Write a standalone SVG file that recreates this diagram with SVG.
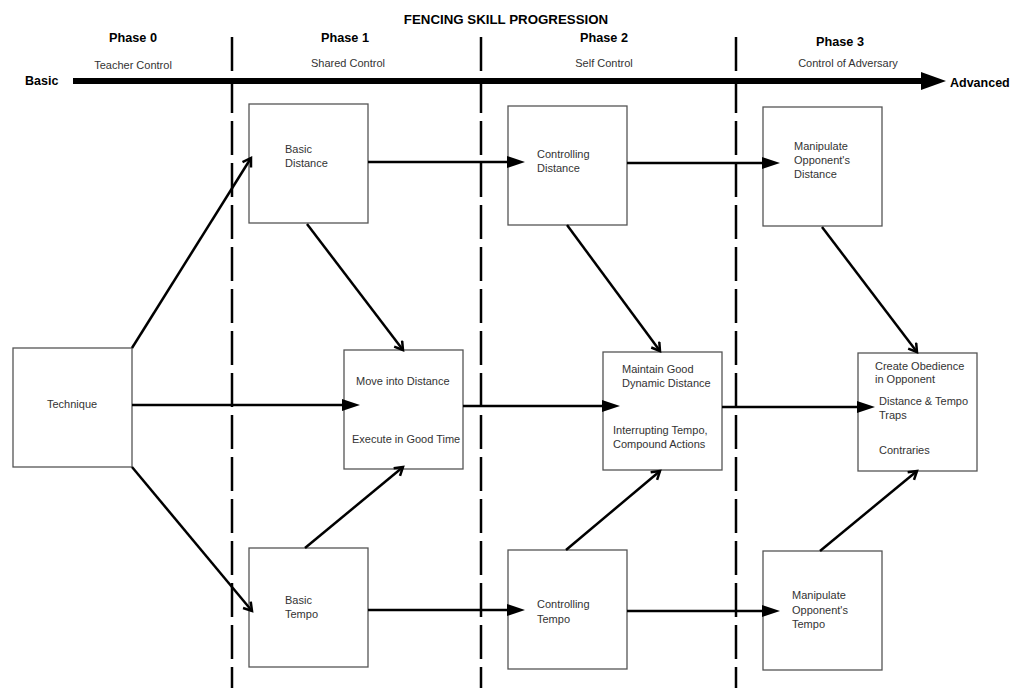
<svg xmlns="http://www.w3.org/2000/svg" width="1024" height="700" viewBox="0 0 1024 700">
<style>
.t{font-family:"Liberation Sans",Arial,sans-serif;font-size:11px;fill:#333}
.h{font-family:"Liberation Sans",Arial,sans-serif;font-weight:bold;fill:#000}
.box{fill:#fff;stroke:#555;stroke-width:1.3}
.c{stroke:#000;stroke-width:2.5;fill:none}
.d{stroke:#000;stroke-width:2.5;stroke-dasharray:34 8}
</style>
<defs>
<marker id="tri" markerUnits="userSpaceOnUse" markerWidth="20" markerHeight="14" refX="0" refY="6" orient="auto"><path d="M0,0 L18,6 L0,12 z" fill="#000"/></marker>
<marker id="vee" markerUnits="userSpaceOnUse" markerWidth="14" markerHeight="14" refX="9" refY="6" orient="auto"><path d="M1,1 L9,6 L1,11" fill="none" stroke="#000" stroke-width="2.5"/></marker>
<marker id="big" markerUnits="userSpaceOnUse" markerWidth="28" markerHeight="20" refX="0" refY="9" orient="auto"><path d="M0,0 L25,9 L0,18 z" fill="#000"/></marker>
</defs>
<rect width="1024" height="700" fill="#fff"/>
<g id="header">
<text class="h" x="506" y="24" font-size="13.3" text-anchor="middle">FENCING SKILL PROGRESSION</text>
<text class="h" x="133" y="42" font-size="12.7" text-anchor="middle">Phase 0</text>
<text class="h" x="345" y="42" font-size="12.7" text-anchor="middle">Phase 1</text>
<text class="h" x="604" y="42" font-size="12.7" text-anchor="middle">Phase 2</text>
<text class="h" x="840" y="46" font-size="12.7" text-anchor="middle">Phase 3</text>
<text class="t" x="133" y="69" text-anchor="middle">Teacher Control</text>
<text class="t" x="348" y="67" text-anchor="middle">Shared Control</text>
<text class="t" x="604" y="67" text-anchor="middle">Self Control</text>
<text class="t" x="848" y="67" text-anchor="middle">Control of Adversary</text>
<text class="h" x="25" y="85" font-size="12.5">Basic</text>
<text class="h" x="950" y="87" font-size="12.5">Advanced</text>
</g>
<g id="phase-dividers">
<line class="d" x1="232" y1="37" x2="232" y2="688"/>
<line class="d" x1="481" y1="37" x2="481" y2="688"/>
<line class="d" x1="736" y1="37" x2="736" y2="688"/>
</g>
<g id="axis">
<line x1="73" y1="81" x2="921" y2="81" stroke="#000" stroke-width="6" marker-end="url(#big)"/>
</g>
<g id="technique"><rect class="box" x="13" y="348" width="119" height="119"/><text class="t" x="47" y="408">Technique</text></g>
<g id="basic-distance"><rect class="box" x="249" y="104" width="119" height="119"/><text class="t" x="285" y="153">Basic</text><text class="t" x="285" y="167">Distance</text></g>
<g id="controlling-distance"><rect class="box" x="508" y="106" width="119" height="119"/><text class="t" x="537" y="158">Controlling</text><text class="t" x="537" y="172">Distance</text></g>
<g id="manipulate-distance"><rect class="box" x="763" y="107" width="119" height="119"/><text class="t" x="794" y="150">Manipulate</text><text class="t" x="794" y="164">Opponent's</text><text class="t" x="794" y="178">Distance</text></g>
<g id="move-into-distance"><rect class="box" x="344" y="350" width="119" height="119"/><text class="t" x="356" y="385">Move into Distance</text><text class="t" x="352" y="443">Execute in Good Time</text></g>
<g id="maintain-good"><rect class="box" x="603" y="352" width="119" height="118"/><text class="t" x="622" y="373">Maintain Good</text><text class="t" x="622" y="387">Dynamic Distance</text><text class="t" x="613" y="434">Interrupting Tempo,</text><text class="t" x="613" y="448">Compound Actions</text></g>
<g id="create-obedience"><rect class="box" x="858" y="353" width="119" height="118"/><text class="t" x="875" y="370">Create Obedience</text><text class="t" x="875" y="383">in Opponent</text><text class="t" x="879" y="405">Distance &amp; Tempo</text><text class="t" x="879" y="419">Traps</text><text class="t" x="879" y="454">Contraries</text></g>
<g id="basic-tempo"><rect class="box" x="249" y="548" width="119" height="119"/><text class="t" x="285" y="604">Basic</text><text class="t" x="285" y="618">Tempo</text></g>
<g id="controlling-tempo"><rect class="box" x="508" y="550" width="119" height="119"/><text class="t" x="537" y="608">Controlling</text><text class="t" x="537" y="623">Tempo</text></g>
<g id="manipulate-tempo"><rect class="box" x="763" y="551" width="119" height="119"/><text class="t" x="792" y="599">Manipulate</text><text class="t" x="792" y="614">Opponent's</text><text class="t" x="792" y="628">Tempo</text></g>
<g id="connectors">
<line class="c" x1="132" y1="348" x2="251" y2="158" marker-end="url(#vee)"/>
<line class="c" x1="132" y1="405" x2="342" y2="405" marker-end="url(#tri)"/>
<line class="c" x1="132" y1="467" x2="252" y2="611" marker-end="url(#vee)"/>
<line class="c" x1="307" y1="224" x2="403" y2="350" marker-end="url(#vee)"/>
<line class="c" x1="305" y1="548" x2="403" y2="467" marker-end="url(#vee)"/>
<line class="c" x1="368" y1="162" x2="507" y2="162" marker-end="url(#tri)"/>
<line class="c" x1="368" y1="610" x2="507" y2="610" marker-end="url(#tri)"/>
<line class="c" x1="463" y1="406" x2="602" y2="406" marker-end="url(#tri)"/>
<line class="c" x1="567" y1="225" x2="660" y2="351" marker-end="url(#vee)"/>
<line class="c" x1="566" y1="550" x2="660" y2="471" marker-end="url(#vee)"/>
<line class="c" x1="627" y1="163" x2="762" y2="163" marker-end="url(#tri)"/>
<line class="c" x1="627" y1="611" x2="762" y2="611" marker-end="url(#tri)"/>
<line class="c" x1="722" y1="407" x2="857" y2="407" marker-end="url(#tri)"/>
<line class="c" x1="822" y1="227" x2="917" y2="352" marker-end="url(#vee)"/>
<line class="c" x1="820" y1="551" x2="917" y2="471" marker-end="url(#vee)"/>
</g>
</svg>
